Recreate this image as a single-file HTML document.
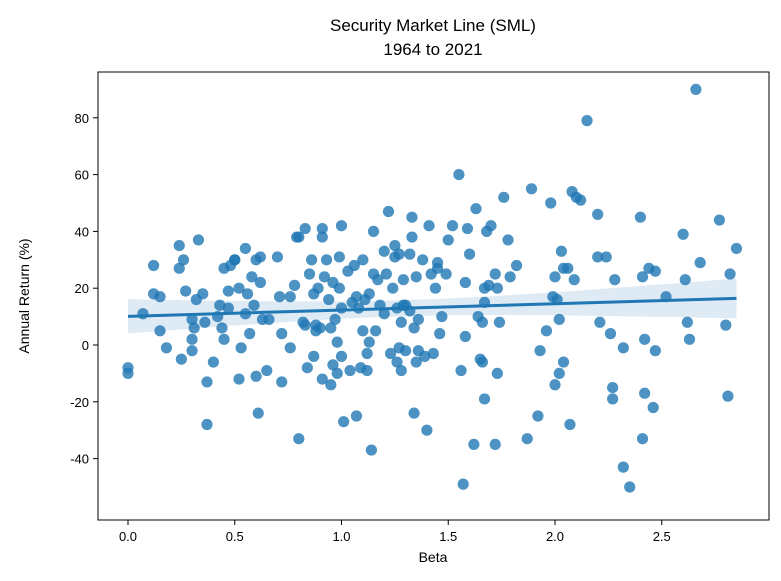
<!DOCTYPE html>
<html><head><meta charset="utf-8"><style>
html,body{margin:0;padding:0;background:#fff;}
svg{display:block;font-family:"Liberation Sans","DejaVu Sans",sans-serif;}
</style></head><body>
<svg id="chart" width="781" height="581" xmlns="http://www.w3.org/2000/svg">
<text x="433" y="31" text-anchor="middle" font-size="17" fill="#000">Security Market Line (SML)</text>
<text x="433" y="55" text-anchor="middle" font-size="17" fill="#000">1964 to 2021</text>
<g id="band"></g>
<g id="points"></g>
<g id="reg"></g>
<rect x="98" y="72" width="671" height="448" fill="none" stroke="#000" stroke-width="1"/>
<g id="xticks"></g>
<g id="yticks"></g>
<text x="433" y="562" text-anchor="middle" font-size="14">Beta</text>
<text transform="translate(29,296) rotate(-90)" text-anchor="middle" font-size="14">Annual Return (%)</text>
</svg>
<script>
const betas=[0,0,0.07,0.12,0.12,0.15,0.15,0.18,0.24,0.24,0.25,0.26,0.27,0.3,0.3,0.31,0.3,0.32,0.33,0.35,0.36,0.37,0.37,0.4,0.42,0.43,0.44,0.45,0.45,0.47,0.47,0.48,0.5,0.5,0.52,0.52,0.53,0.55,0.55,0.56,0.57,0.58,0.59,0.6,0.6,0.61,0.62,0.62,0.63,0.65,0.66,0.7,0.71,0.72,0.72,0.76,0.76,0.78,0.79,0.8,0.8,0.82,0.83,0.83,0.84,0.85,0.86,0.87,0.87,0.88,0.88,0.89,0.9,0.91,0.91,0.91,0.92,0.93,0.94,0.95,0.95,0.96,0.96,0.97,0.98,0.98,0.99,0.99,1.0,1.0,1.0,1.01,1.03,1.04,1.05,1.06,1.07,1.07,1.08,1.09,1.1,1.1,1.11,1.12,1.12,1.13,1.13,1.14,1.15,1.15,1.16,1.17,1.18,1.2,1.2,1.21,1.22,1.23,1.24,1.25,1.25,1.26,1.26,1.27,1.27,1.28,1.28,1.29,1.29,1.3,1.3,1.32,1.32,1.33,1.33,1.34,1.34,1.35,1.35,1.36,1.36,1.38,1.39,1.4,1.41,1.42,1.43,1.44,1.45,1.45,1.46,1.47,1.49,1.5,1.52,1.55,1.56,1.57,1.58,1.58,1.59,1.6,1.62,1.63,1.64,1.65,1.66,1.66,1.67,1.67,1.67,1.68,1.69,1.7,1.72,1.72,1.73,1.73,1.74,1.76,1.78,1.79,1.82,1.87,1.89,1.92,1.93,1.96,1.98,1.99,2.0,2.0,2.01,2.02,2.02,2.03,2.04,2.04,2.06,2.07,2.08,2.09,2.1,2.12,2.15,2.2,2.2,2.21,2.24,2.26,2.27,2.27,2.28,2.32,2.32,2.35,2.4,2.41,2.42,2.41,2.42,2.44,2.46,2.47,2.47,2.52,2.6,2.61,2.62,2.63,2.66,2.68,2.77,2.8,2.81,2.82,2.85];
const returns=[-8,-10,11,28,18,17,5,-1,35,27,-5,30,19,9,2,6,-2,16,37,18,8,-28,-13,-6,10,14,6,2,27,19,13,28,30,30,20,-12,-1,34,11,18,4,24,14,30,-11,-24,31,22,9,-9,9,31,17,-13,4,17,-1,21,38,38,-33,8,7,41,-8,25,30,18,-4,7,5,20,6,-12,38,41,24,30,16,-14,6,22,-7,9,-10,1,20,31,42,-4,13,-27,26,-9,15,28,17,-25,13,-8,5,30,16,-3,-9,18,1,-37,40,25,5,23,14,11,33,25,47,-3,20,35,31,13,-6,32,-1,8,-9,23,14,-2,14,32,12,45,38,-24,6,24,-6,9,-2,30,-4,-30,42,25,-3,20,27,29,4,10,25,37,42,60,-9,-49,22,3,41,32,-35,48,10,-5,-6,8,-19,20,15,40,21,42,-35,25,20,-10,8,52,37,24,28,-33,55,-25,-2,5,50,17,24,-14,16,9,-10,33,27,-6,27,-28,54,23,52,51,79,46,31,8,31,4,-15,-19,23,-1,-43,-50,45,24,-17,-33,2,27,-22,-2,26,17,39,23,8,2,90,29,44,7,-18,25,34];
const xTicks=[0,0.5,1.0,1.5,2.0,2.5];
const yTicks=[-40,-20,0,20,40,60,80];
const NS="http://www.w3.org/2000/svg";
const X=v=>128+v*213.5;
const Y=v=>345-v*2.84;
function mk(t,a,p){const e=document.createElementNS(NS,t);for(const k in a)e.setAttribute(k,a[k]);p.appendChild(e);return e;}
const pts=document.getElementById('points');
betas.forEach((b,i)=>{
  const c=mk('circle',{cx:X(b),cy:Y(returns[i]),r:5.6,fill:'#1f77b4','fill-opacity':0.8},pts);
  
  
});
// regression + CI
const n=betas.length;
const mx=betas.reduce((a,b)=>a+b,0)/n, my=returns.reduce((a,b)=>a+b,0)/n;
let sxx=0,sxy=0;betas.forEach((b,i)=>{sxx+=(b-mx)**2;sxy+=(b-mx)*(returns[i]-my);});
const slope=sxy/sxx, icpt=my-slope*mx;
let sse=0;betas.forEach((b,i)=>{sse+=(returns[i]-icpt-slope*b)**2;});
const s=Math.sqrt(sse/(n-2));
const x0=Math.min(...betas), x1=Math.max(...betas);
let up=[],lo=[];
for(let k=0;k<=50;k++){const x=x0+(x1-x0)*k/50;const yh=icpt+slope*x;const se=s*Math.sqrt(1/n+(x-mx)**2/sxx)*1.97;up.push(X(x)+','+Y(yh+se));lo.unshift(X(x)+','+Y(yh-se));}
const band=mk('polygon',{points:up.concat(lo).join(' '),fill:'#1f77b4','fill-opacity':0.15},document.getElementById('band'));


const ln=mk('line',{x1:X(x0),y1:Y(icpt+slope*x0),x2:X(x1),y2:Y(icpt+slope*x1),stroke:'#1f77b4','stroke-width':3},document.getElementById('reg'));


const xg=document.getElementById('xticks');
xTicks.forEach(t=>{
  mk('line',{x1:X(t),x2:X(t),y1:520,y2:525,stroke:'#000'},xg);
  const tx=mk('text',{x:X(t),y:541,'text-anchor':'middle','font-size':13},xg);tx.textContent=t.toFixed(1);
  
  
});
const yg=document.getElementById('yticks');
yTicks.forEach(t=>{
  mk('line',{x1:93,x2:98,y1:Y(t),y2:Y(t),stroke:'#000'},yg);
  const tx=mk('text',{x:89,y:Y(t)+5,'text-anchor':'end','font-size':13},yg);tx.textContent=t;
  
  
});
</script>
</body></html>
